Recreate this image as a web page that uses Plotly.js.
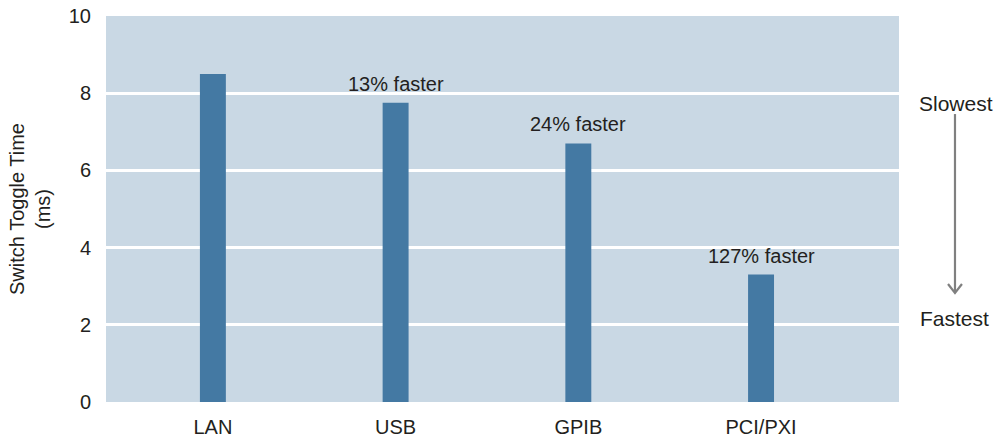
<!DOCTYPE html>
<html>
<head>
<meta charset="utf-8">
<script src="https://cdn.plot.ly/plotly-3.0.1.min.js"></script>
<style>
  html, body { margin: 0; padding: 0; background: #ffffff; }
  #chart { width: 997px; height: 439px; }
</style>
</head>
<body>
<div id="chart"></div>
<script>
// Switch toggle time per bus interface
const interfaces = ["LAN", "USB", "GPIB", "PCI/PXI"];
const toggleTimeMs = [8.5, 7.75, 6.7, 3.3];
const speedupLabels = ["", "13% faster", "24% faster", "127% faster"];
const yTickValues = [0, 2, 4, 6, 8, 10];

const FONT = '"Liberation Sans", Arial, sans-serif';
const TEXT_COLOR = '#231f20';
const BAR_COLOR = '#4479a3';
const ARROW_COLOR = '#808080';

const trace = {
  type: 'bar',
  x: interfaces,
  y: toggleTimeMs,
  width: 0.142,
  marker: { color: BAR_COLOR, line: { width: 0 } },
  hoverinfo: 'x+y'
};

// "n% faster" labels sitting above each bar
const labelAnnotations = interfaces.map((name, i) => ({
  x: name,
  y: toggleTimeMs[i],
  xref: 'x',
  yref: 'y',
  text: speedupLabels[i],
  showarrow: false,
  yanchor: 'bottom',
  yshift: 6,
  font: { family: FONT, size: 20, color: TEXT_COLOR }
})).filter(a => a.text !== "");

// Slowest -> Fastest scale on the right
const arrowX = 1.0706;
const sideAnnotations = [
  { x: 1.0719, y: 0.7746, xref: 'paper', yref: 'paper', text: 'Slowest',
    showarrow: false, xanchor: 'center', yanchor: 'middle',
    font: { family: FONT, size: 21, color: TEXT_COLOR } },
  { x: 1.0706, y: 0.2176, xref: 'paper', yref: 'paper', text: 'Fastest',
    showarrow: false, xanchor: 'center', yanchor: 'middle',
    font: { family: FONT, size: 21, color: TEXT_COLOR } }
];

const arrowShapes = [
  { type: 'line', xref: 'paper', yref: 'paper',
    x0: arrowX, x1: arrowX, y0: 0.7460, y1: 0.2850,
    line: { color: ARROW_COLOR, width: 2.2 } },
  { type: 'path', xref: 'paper', yref: 'paper',
    path: `M ${arrowX - 0.0088},0.3057 L ${arrowX},0.2824 L ${arrowX + 0.0088},0.3057`,
    line: { color: ARROW_COLOR, width: 2.2 } }
];

const layout = {
  width: 997,
  height: 439,
  margin: { l: 106, r: 98, t: 16, b: 37, pad: 0 },
  paper_bgcolor: '#ffffff',
  plot_bgcolor: '#c9d8e4',
  showlegend: false,
  font: { family: FONT, size: 20, color: TEXT_COLOR },
  xaxis: {
    type: 'category',
    range: [-0.585, 3.755],
    showgrid: false,
    zeroline: false,
    showline: false,
    ticks: '',
    ticklabelstandoff: 11,
    tickfont: { family: FONT, size: 20, color: TEXT_COLOR },
    fixedrange: true
  },
  yaxis: {
    range: [0, 10],
    tickvals: yTickValues,
    ticktext: yTickValues.map(String),
    showgrid: true,
    gridcolor: '#ffffff',
    gridwidth: 3,
    zeroline: false,
    showline: false,
    ticks: '',
    ticklabelstandoff: 14,
    tickfont: { family: FONT, size: 20, color: TEXT_COLOR },
    title: {
      text: 'Switch Toggle Time<br>(ms)',
      font: { family: FONT, size: 20, color: TEXT_COLOR },
      standoff: 12
    },
    fixedrange: true
  },
  annotations: labelAnnotations.concat(sideAnnotations),
  shapes: arrowShapes
};

Plotly.newPlot('chart', [trace], layout, { displayModeBar: false, staticPlot: true });
</script>
</body>
</html>
